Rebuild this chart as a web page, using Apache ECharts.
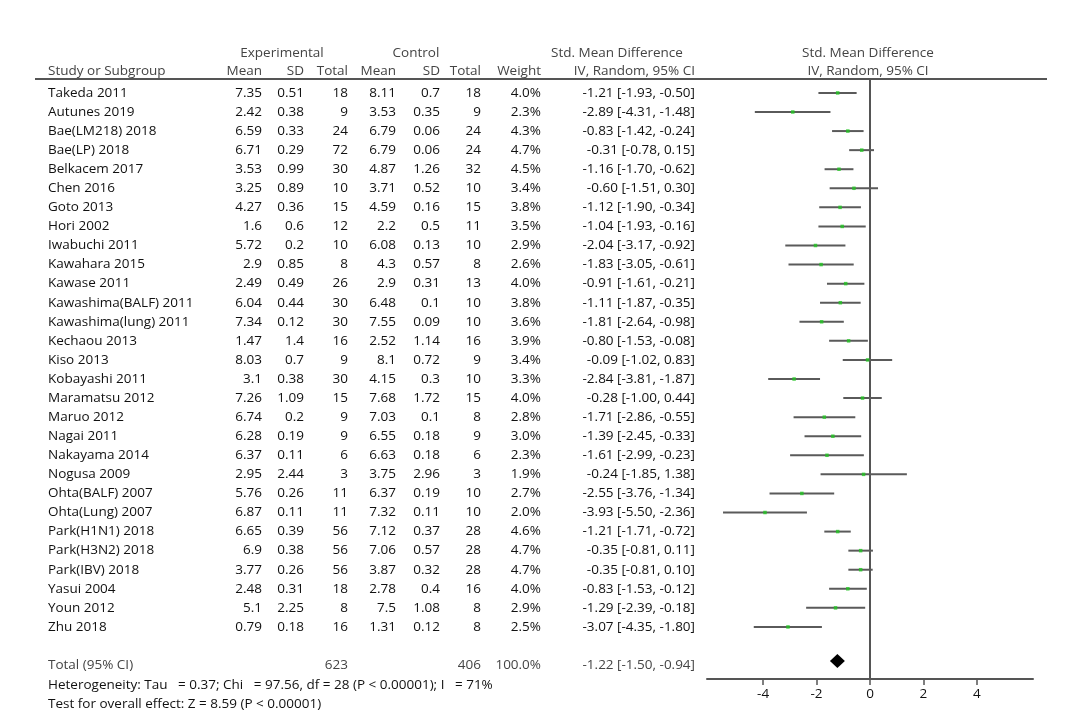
<!DOCTYPE html>
<html>
<head>
<meta charset="utf-8">
<script src="https://cdn.jsdelivr.net/npm/echarts@6/dist/echarts.min.js"></script>
<style>
  html, body { margin: 0; padding: 0; background: #fff; }
  #chart { width: 1084px; height: 723px; }
</style>
</head>
<body>
<div id="chart"></div>
<script>
const studies = [
  "Takeda 2011", "Autunes 2019", "Bae(LM218) 2018", "Bae(LP) 2018", "Belkacem 2017",
  "Chen 2016", "Goto 2013", "Hori 2002", "Iwabuchi 2011", "Kawahara 2015",
  "Kawase 2011", "Kawashima(BALF) 2011", "Kawashima(lung) 2011", "Kechaou 2013", "Kiso 2013",
  "Kobayashi 2011", "Maramatsu 2012", "Maruo 2012", "Nagai 2011", "Nakayama 2014",
  "Nogusa 2009", "Ohta(BALF) 2007", "Ohta(Lung) 2007", "Park(H1N1) 2018", "Park(H3N2) 2018",
  "Park(IBV) 2018", "Yasui 2004", "Youn 2012", "Zhu 2018"
];
const expMean = [7.35, 2.42, 6.59, 6.71, 3.53, 3.25, 4.27, 1.6, 5.72, 2.9, 2.49, 6.04, 7.34, 1.47, 8.03,
  3.1, 7.26, 6.74, 6.28, 6.37, 2.95, 5.76, 6.87, 6.65, 6.9, 3.77, 2.48, 5.1, 0.79];
const expSD = [0.51, 0.38, 0.33, 0.29, 0.99, 0.89, 0.36, 0.6, 0.2, 0.85, 0.49, 0.44, 0.12, 1.4, 0.7,
  0.38, 1.09, 0.2, 0.19, 0.11, 2.44, 0.26, 0.11, 0.39, 0.38, 0.26, 0.31, 2.25, 0.18];
const expN = [18, 9, 24, 72, 30, 10, 15, 12, 10, 8, 26, 30, 30, 16, 9,
  30, 15, 9, 9, 6, 3, 11, 11, 56, 56, 56, 18, 8, 16];
const ctlMean = [8.11, 3.53, 6.79, 6.79, 4.87, 3.71, 4.59, 2.2, 6.08, 4.3, 2.9, 6.48, 7.55, 2.52, 8.1,
  4.15, 7.68, 7.03, 6.55, 6.63, 3.75, 6.37, 7.32, 7.12, 7.06, 3.87, 2.78, 7.5, 1.31];
const ctlSD = [0.7, 0.35, 0.06, 0.06, 1.26, 0.52, 0.16, 0.5, 0.13, 0.57, 0.31, 0.1, 0.09, 1.14, 0.72,
  0.3, 1.72, 0.1, 0.18, 0.18, 2.96, 0.19, 0.11, 0.37, 0.57, 0.32, 0.4, 1.08, 0.12];
const ctlN = [18, 9, 24, 24, 32, 10, 15, 11, 10, 8, 13, 10, 10, 16, 9,
  10, 15, 8, 9, 6, 3, 10, 10, 28, 28, 28, 16, 8, 8];
const weight = [4.0, 2.3, 4.3, 4.7, 4.5, 3.4, 3.8, 3.5, 2.9, 2.6, 4.0, 3.8, 3.6, 3.9, 3.4,
  3.3, 4.0, 2.8, 3.0, 2.3, 1.9, 2.7, 2.0, 4.6, 4.7, 4.7, 4.0, 2.9, 2.5];
const smd = [-1.21, -2.89, -0.83, -0.31, -1.16, -0.60, -1.12, -1.04, -2.04, -1.83, -0.91, -1.11, -1.81, -0.80, -0.09,
  -2.84, -0.28, -1.71, -1.39, -1.61, -0.24, -2.55, -3.93, -1.21, -0.35, -0.35, -0.83, -1.29, -3.07];
const ciLow = [-1.93, -4.31, -1.42, -0.78, -1.70, -1.51, -1.90, -1.93, -3.17, -3.05, -1.61, -1.87, -2.64, -1.53, -1.02,
  -3.81, -1.00, -2.86, -2.45, -2.99, -1.85, -3.76, -5.50, -1.71, -0.81, -0.81, -1.53, -2.39, -4.35];
const ciHigh = [-0.50, -1.48, -0.24, 0.15, -0.62, 0.30, -0.34, -0.16, -0.92, -0.61, -0.21, -0.35, -0.98, -0.08, 0.83,
  -1.87, 0.44, -0.55, -0.33, -0.23, 1.38, -1.34, -2.36, -0.72, 0.11, 0.10, -0.12, -0.18, -1.80];
const total = { expN: 623, ctlN: 406, weight: 100.0, smd: -1.22, low: -1.50, high: -0.94 };
const totalRow = 30;
const xTicks = [-4, -2, 0, 2, 4];

const FONT = "Open Sans";
const TXT = "#111";
const GREY = "#444";

// table columns: x position and alignment
const cols = [
  { x: 48, align: "left" },
  { x: 262, align: "right" },
  { x: 304, align: "right" },
  { x: 348, align: "right" },
  { x: 396, align: "right" },
  { x: 440, align: "right" },
  { x: 481, align: "right" },
  { x: 541, align: "right" },
  { x: 695, align: "right" }
];

function ciText(m, lo, hi) {
  return m.toFixed(2) + " [" + lo.toFixed(2) + ", " + hi.toFixed(2) + "]";
}

const tableRows = studies.map((s, i) => [
  s, String(expMean[i]), String(expSD[i]), String(expN[i]),
  String(ctlMean[i]), String(ctlSD[i]), String(ctlN[i]),
  weight[i].toFixed(1) + "%", ciText(smd[i], ciLow[i], ciHigh[i]), i
]);
tableRows.push([
  "Total (95% CI)", "", "", String(total.expN), "", "", String(total.ctlN),
  total.weight.toFixed(1) + "%", ciText(total.smd, total.low, total.high), totalRow
]);

function txt(text, x, y, align, opts) {
  return {
    type: "text",
    style: Object.assign({
      text: text, x: x, y: y, align: align, verticalAlign: "middle",
      fill: TXT, fontFamily: FONT, fontSize: 13.5, fontWeight: 500
    }, opts || {})
  };
}

const chart = echarts.init(document.getElementById("chart"));

const option = {
  animation: false,
  backgroundColor: "#fff",
  grid: { left: 707, right: 51, top: 79, bottom: 44 },
  xAxis: {
    type: "value",
    min: -6.1,
    max: 6.1,
    axisLine: { onZero: false, lineStyle: { color: "#555", width: 2 } },
    axisTick: { show: true, customValues: xTicks, length: 6, lineStyle: { color: "#555", width: 1.5 } },
    axisLabel: { customValues: xTicks, color: TXT, fontFamily: FONT, fontSize: 13.5, margin: 8 },
    splitLine: { show: false }
  },
  yAxis: {
    type: "value",
    inverse: true,
    min: -0.73,
    max: 30.73,
    axisLine: { show: true, onZero: true, lineStyle: { color: "#555", width: 2 } },
    axisTick: { show: false },
    axisLabel: { show: false },
    splitLine: { show: false }
  },
  graphic: [
    { type: "line", shape: { x1: 35, y1: 79, x2: 1047, y2: 79 }, style: { stroke: "#555", lineWidth: 2 } },
    txt("Experimental", 282, 53, "center", { fill: GREY, fontWeight: 400 }),
    txt("Control", 416, 53, "center", { fill: GREY, fontWeight: 400 }),
    txt("Std. Mean Difference", 617, 53, "center", { fill: GREY, fontWeight: 400 }),
    txt("Std. Mean Difference", 868, 53, "center", { fill: GREY, fontWeight: 400 }),
    txt("Study or Subgroup", 48, 71, "left", { fill: GREY, fontWeight: 400 }),
    txt("Mean", 262, 71, "right", { fill: GREY, fontWeight: 400 }),
    txt("SD", 304, 71, "right", { fill: GREY, fontWeight: 400 }),
    txt("Total", 348, 71, "right", { fill: GREY, fontWeight: 400 }),
    txt("Mean", 396, 71, "right", { fill: GREY, fontWeight: 400 }),
    txt("SD", 440, 71, "right", { fill: GREY, fontWeight: 400 }),
    txt("Total", 481, 71, "right", { fill: GREY, fontWeight: 400 }),
    txt("Weight", 541, 71, "right", { fill: GREY, fontWeight: 400 }),
    txt("IV, Random, 95% CI", 695, 71, "right", { fill: GREY, fontWeight: 400 }),
    txt("IV, Random, 95% CI", 868, 71, "center", { fill: GREY, fontWeight: 400 }),
    txt("Heterogeneity: Tau   = 0.37; Chi   = 97.56, df = 28 (P < 0.00001); I   = 71%", 48, 685, "left"),
    txt("Test for overall effect: Z = 8.59 (P < 0.00001)", 48, 704, "left")
  ],
  series: [
    {
      name: "table",
      type: "custom",
      silent: true,
      data: tableRows.map((r) => [0, r[9]]),
      renderItem: function (params, api) {
        const r = tableRows[params.dataIndex];
        const y = api.coord([0, api.value(1)])[1];
        const isTotal = r[9] === totalRow;
        const children = cols.map((c, k) =>
          txt(r[k], c.x, y, c.align, isTotal ? { fill: GREY, fontWeight: 400 } : null)
        );
        return { type: "group", children: children };
      }
    },
    {
      name: "ci",
      type: "custom",
      silent: true,
      data: studies.map((s, i) => [ciLow[i], ciHigh[i], i]),
      renderItem: function (params, api) {
        const a = api.coord([api.value(0), api.value(2)]);
        const b = api.coord([api.value(1), api.value(2)]);
        return {
          type: "line",
          shape: { x1: a[0], y1: a[1], x2: b[0], y2: b[1] },
          style: { stroke: "#5a5a5a", lineWidth: 2 }
        };
      },
      z: 2
    },
    {
      name: "smd",
      type: "scatter",
      silent: true,
      symbol: "rect",
      symbolSize: 3.5,
      itemStyle: { color: "#22c422" },
      data: studies.map((s, i) => [smd[i], i]),
      z: 3
    },
    {
      name: "total",
      type: "custom",
      silent: true,
      data: [[total.low, total.smd, total.high, totalRow]],
      renderItem: function (params, api) {
        const row = api.value(3);
        const l = api.coord([api.value(0), row]);
        const m = api.coord([api.value(1), row]);
        const h = api.coord([api.value(2), row]);
        const half = 7;
        return {
          type: "polygon",
          shape: { points: [[l[0], m[1] - 4], [m[0], m[1] - 4 - half], [h[0], m[1] - 4], [m[0], m[1] - 4 + half]] },
          style: { fill: "#000" }
        };
      }
    }
  ]
};

chart.setOption(option);
</script>
</body>
</html>
